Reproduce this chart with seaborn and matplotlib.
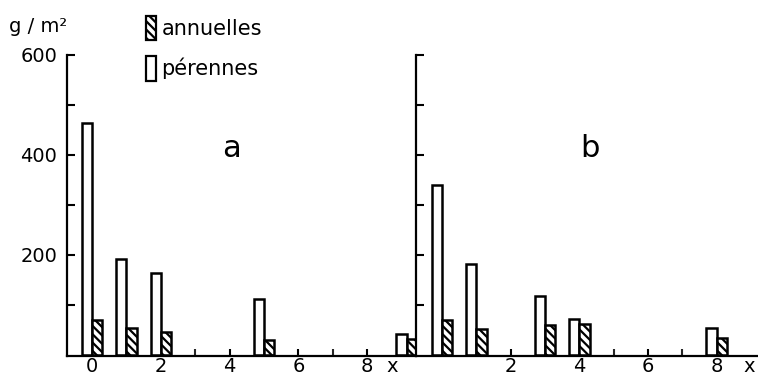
import matplotlib
matplotlib.use("Agg")
import matplotlib.pyplot as plt
import matplotlib.patches as mpatches
import seaborn as sns
import pandas as pd

sns.set_theme(style="white")
plt.rcParams['font.family'] = ['DejaVu Sans']
plt.rcParams['text.color'] = 'black'
plt.rcParams['hatch.linewidth'] = 1.6
plt.rcParams['hatch.color'] = 'black'

# Panel a
pos_a = [0, 1, 2, 5, 9.15]
peren_a = [465, 193, 165, 113, 42]
annu_a = [70, 55, 47, 30, 32]
# Panel b
pos_b = [0, 1, 3, 4, 8]
peren_b = [340, 182, 118, 73, 55]
annu_b = [70, 52, 60, 62, 35]

types = ["pérennes", "annuelles"]
xticks_a = [0, 2, 4, 6, 8, 8.72]
xticklabels_a = ["0", "2", "4", "6", "8", "x"]
xticks_b = [2, 4, 6, 8, 8.95]
xticklabels_b = ["2", "4", "6", "8", "x"]
yticks = [100, 200, 300, 400, 500, 600]
yticklabels = ["", "200", "", "400", "", "600"]


def long(pos, per, ann):
    return pd.DataFrame({
        "pos": pos + pos,
        "val": per + ann,
        "type": [types[0]] * len(pos) + [types[1]] * len(pos),
    })


fig = plt.figure(figsize=(7.58, 3.78), dpi=100)
ax_a = fig.add_axes([67 / 758, 1 - 356 / 378, (416 - 67) / 758, (356 - 55) / 378])
ax_b = fig.add_axes([416 / 758, 1 - 356 / 378, (757 - 416) / 758, (356 - 55) / 378])

for ax, pos, per, ann in [(ax_a, pos_a, peren_a, annu_a), (ax_b, pos_b, peren_b, annu_b)]:
    df = long(pos, per, ann)
    sns.barplot(data=df, x="pos", y="val", hue="type", hue_order=types,
                native_scale=True, width=0.6, palette=["white", "white"],
                edgecolor="black", linewidth=1.8, legend=False, ax=ax)
    for cont, t in zip(ax.containers, types):
        for bar in cont:
            bar.set_edgecolor("black")
            bar.set_linewidth(1.8)
            if t == "annuelles":
                bar.set_hatch("\\\\\\\\")
    ax.set_ylim(-2, 600)
    ax.set_yticks(yticks)
    ax.set_xlabel("")
    ax.set_ylabel("")
    sns.despine(ax=ax)
    for s in ["left", "bottom"]:
        ax.spines[s].set_linewidth(1.6)
        ax.spines[s].set_color("black")
    ax.tick_params(axis="both", direction="in", length=5, width=1.5,
                   colors="black", labelsize=14, labelcolor="black")
    ax.patch.set_alpha(0)

ax_a.set_xlim(-0.73, 9.42)
ax_b.set_xlim(-0.76, 9.18)

ax_a.set_xticks(xticks_a)
ax_a.set_xticklabels(xticklabels_a)
ax_a.set_xticks([1, 3, 5, 7], minor=True)
ax_a.set_yticklabels(yticklabels)
ax_b.set_xticks(xticks_b)
ax_b.set_xticklabels(xticklabels_b)
ax_b.set_xticks([0, 1, 3, 5, 7], minor=True)
ax_b.set_yticklabels([])
for ax in (ax_a, ax_b):
    ax.tick_params(axis="x", which="both", direction="in", length=5, width=1.5,
                   bottom=True, pad=1)
    ax.tick_params(axis="y", which="both", direction="in", length=6, width=1.5,
                   left=True, pad=7)
    # hide tick mark at the "x" label
    ax.get_xticklines()[-2].set_visible(False)

ax_a.text(0.47, 0.69, "a", transform=ax_a.transAxes, fontsize=22, ha="center", va="center")
ax_b.text(0.51, 0.69, "b", transform=ax_b.transAxes, fontsize=22, ha="center", va="center")

fig.text(0.012, 1 - 27 / 378, "g / m²", fontsize=14, ha="left", va="center")

handles = [mpatches.Patch(facecolor="white", edgecolor="black", hatch="\\\\\\\\", linewidth=1.6),
           mpatches.Patch(facecolor="white", edgecolor="black", linewidth=1.6)]
fig.legend(handles, ["annuelles", "pérennes"], loc="upper left",
           bbox_to_anchor=(127 / 758, 1 + 3 / 378), frameon=False,
           fontsize=15, handlelength=0.5, handleheight=1.4,
           handletextpad=0.25, labelspacing=0.8)

fig.savefig("out.png", dpi=100)
